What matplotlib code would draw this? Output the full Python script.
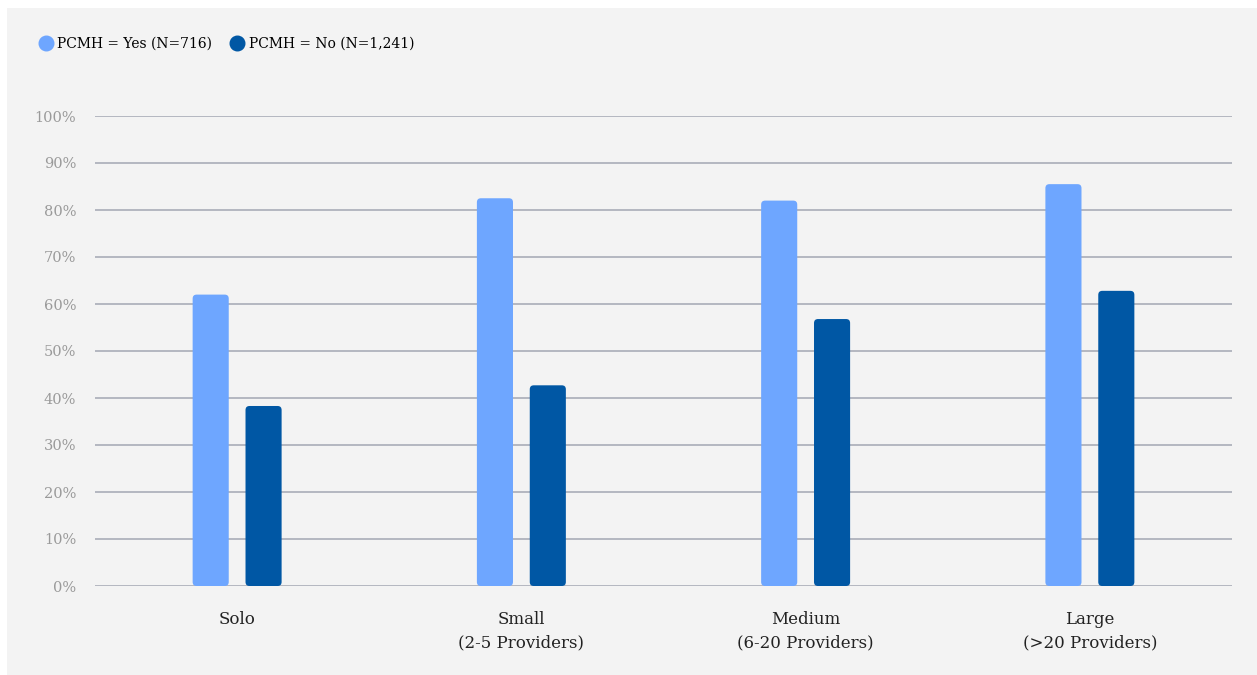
import matplotlib.pyplot as plt
from matplotlib.patches import FancyBboxPatch, Rectangle
from matplotlib.lines import Line2D
import numpy as np

categories = ["Solo", "Small\n(2-5 Providers)", "Medium\n(6-20 Providers)", "Large\n(>20 Providers)"]
pcmh_yes = [62, 82.5, 82, 85.5]
pcmh_no = [38.3, 42.7, 56.8, 62.8]
series_labels = ["PCMH = Yes (N=716)", "PCMH = No (N=1,241)"]
colors = ["#6ea6ff", "#0057a4"]
yticks = list(range(0, 101, 10))

plt.rcParams['font.family'] = ['DejaVu Serif']

W, H = 1257, 675
fig = plt.figure(figsize=(W / 100, H / 100), dpi=100)
fig.patch.set_facecolor('white')
fig.patches.append(Rectangle((7 / W, 0), 1, 1 - 8 / H, transform=fig.transFigure,
                             fc='#f3f3f3', ec='none', zorder=-10))

ax = fig.add_axes([95 / W, 1 - 586 / H, (1232 - 95) / W, (586 - 116) / H])
ax.set_facecolor('none')
ax.set_xlim(-0.5, len(categories) - 0.5)
ax.set_ylim(0, 100)

x = np.arange(len(categories))
bw = 0.127
offs = 0.093
# px per data unit, for rounded corners
px_x = (1232 - 95) / len(categories)
px_y = (586 - 116) / 100
r = 4 / px_x
for vals, off, c in [(pcmh_yes, -offs, colors[0]), (pcmh_no, offs, colors[1])]:
    bars = ax.bar(x + off, vals, width=bw, color='none')
    for b in bars:
        p = FancyBboxPatch((b.get_x(), 0), b.get_width(), b.get_height(),
                           boxstyle=f"round,pad=0,rounding_size={r}",
                           mutation_aspect=px_x / px_y,
                           fc=c, ec='none', zorder=3)
        ax.add_patch(p)

ax.set_yticks(yticks)
ax.set_yticklabels([f"{v}%" for v in yticks], color='#9a9a9a', fontsize=10.5)
ax.yaxis.grid(True, color='#a9adb8', lw=1.2)
ax.set_axisbelow(True)
ax.tick_params(axis='y', length=0, pad=13.5)
ax.tick_params(axis='x', length=0, pad=18)
ax.set_xticks(x)
ax.set_xticklabels(categories, fontsize=12, color='#222222', linespacing=1.5)
for s in ax.spines.values():
    s.set_visible(False)

handles = [Line2D([], [], marker='o', ls='none', ms=10.5, mfc=c, mec=c) for c in colors]
fig.legend(handles, series_labels, loc='center left', bbox_to_anchor=(33 / W, 1 - 44 / H),
           ncol=2, frameon=False, fontsize=10, handletextpad=0.35, columnspacing=1.3,
           borderaxespad=0, handlelength=1.0)

fig.savefig('out.png', dpi=100)
